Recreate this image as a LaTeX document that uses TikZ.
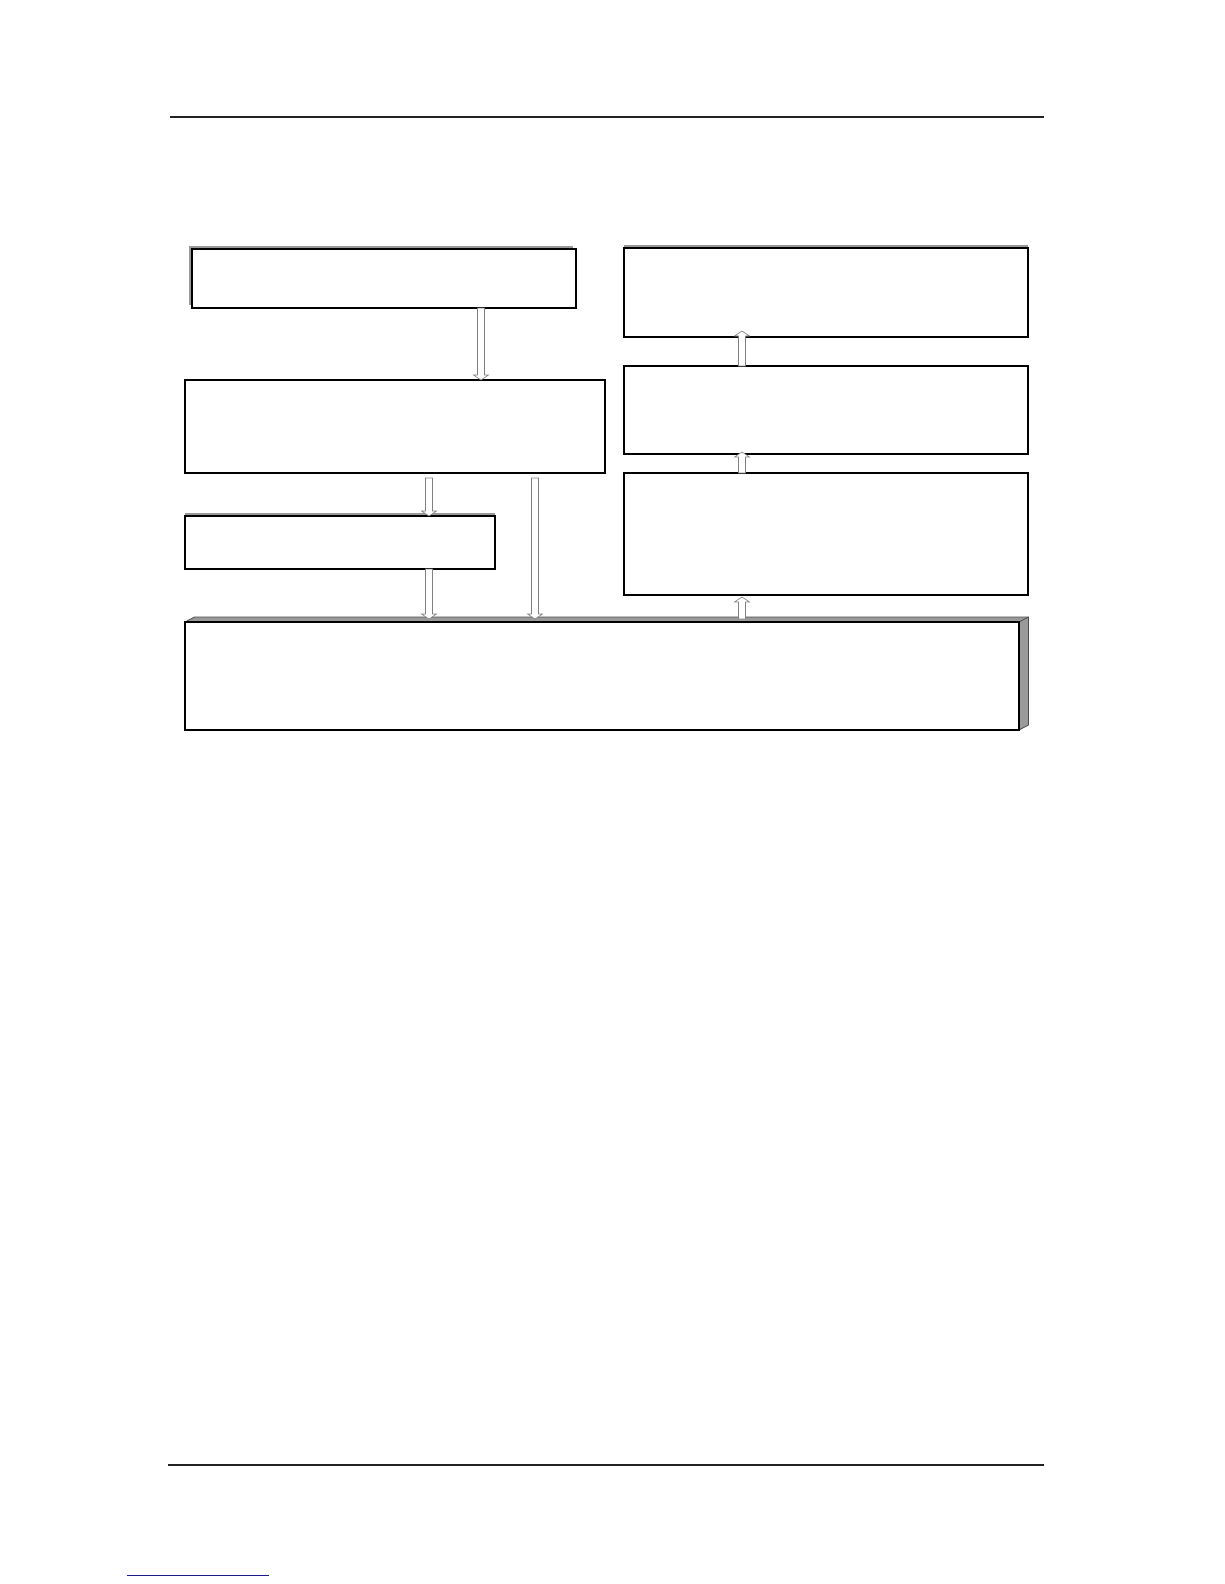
\documentclass[tikz,border=0pt]{standalone}
\usetikzlibrary{calc,shadows}
\definecolor{rulegray}{HTML}{222222}
\definecolor{sidegray}{HTML}{9A9A9A}
\definecolor{linkblue}{HTML}{1C1C8A}
\tikzset{
  box/.style = {draw, line width = 1.1pt, fill = white, inner sep = 0pt, outer sep = 0pt, anchor = north west},
  lift/.style = {drop shadow = {shadow xshift = #1, shadow yshift = 3pt, fill = gray!80, opacity = 1}},
  hollow/.style = {draw = gray, fill = white, line width = 0.6pt, line join = miter},
  side/.style = {fill = sidegray, draw = black!70, line width = 0.8pt, line join = round}
}
\newcommand\blockarrow[2]{%
  \draw [hollow] let \p1 = (#1), \p2 = (#2), \n1 = {sign(\y2 - \y1)} in
    ({\x1 - 3.5pt}, \y1) -- ({\x1 - 3.5pt}, {\y2 - \n1 * 5pt}) -- ({\x1 - 7.5pt}, {\y2 - \n1 * 5pt})
    -- (\x1, \y2) -- ({\x1 + 7.5pt}, {\y2 - \n1 * 5pt}) -- ({\x1 + 3.5pt}, {\y2 - \n1 * 5pt})
    -- ({\x1 + 3.5pt}, \y1) -- cycle;}
\begin{document}
\begin{tikzpicture}[x = 1pt, y = -1pt]
\useasboundingbox (0, 0) rectangle (1224, 1584);
\draw [rulegray, line width = 2pt] (170, 117) -- (1044, 117);
\draw [rulegray, line width = 2pt] (168, 1465) -- (1044, 1465);
\draw [linkblue, line width = 1pt] (127, 1575) -- (269, 1575);
\node [box, lift = -3pt, minimum width = 384, minimum height = 59] (in) at (192, 249) {};
\node [box, minimum width = 420, minimum height = 93] (proc) at (185, 380) {};
\draw [line width = 2pt] (proc.north west) -- (proc.north east);
\node [box, lift = 0pt, minimum width = 310, minimum height = 53] (aux) at (185, 516) {};
\node [box, lift = 0pt, minimum width = 404, minimum height = 89] (top) at (624, 248) {};
\node [box, minimum width = 404, minimum height = 88] (mid) at (624, 366) {};
\node [box, minimum width = 404, minimum height = 122] (low) at (624, 473) {};
\draw [line width = 2pt] (low.north west) -- (low.north east);
\node [box, minimum width = 834, minimum height = 108] (base) at (185, 622) {};
\draw [side] (base.north west) -- ++(9.5, -5) -- ($(base.north east) + (9.5, -5)$) -- ($(base.south east) + (9.5, -5)$) -- (base.south east) -- (base.north east) -- cycle;
\draw [black!70, line width = 0.8pt] (base.north east) -- ++(9.5, -5);
\draw [line width = 1.1pt] (base.north west) rectangle (base.south east);
\coordinate (xa) at (481, 0);
\coordinate (xb) at (429, 0);
\coordinate (xc) at (535, 0);
\coordinate (xd) at (742, 0);
\blockarrow{in.south -| xa}{proc.north -| xa}
\blockarrow{$(proc.south -| xb) + (0, 5)$}{aux.north -| xb}
\blockarrow{$(proc.south -| xc) + (0, 5)$}{$(base.north -| xc) + (0, -3)$}
\blockarrow{aux.south -| xb}{$(base.north -| xb) + (0, -3)$}
\blockarrow{$(base.north -| xd) + (0, -3)$}{$(low.south -| xd) + (0, 2)$}
\blockarrow{low.north -| xd}{$(mid.south -| xd) + (0, -2)$}
\blockarrow{mid.north -| xd}{$(top.south -| xd) + (0, -6)$}
\end{tikzpicture}
\end{document}
